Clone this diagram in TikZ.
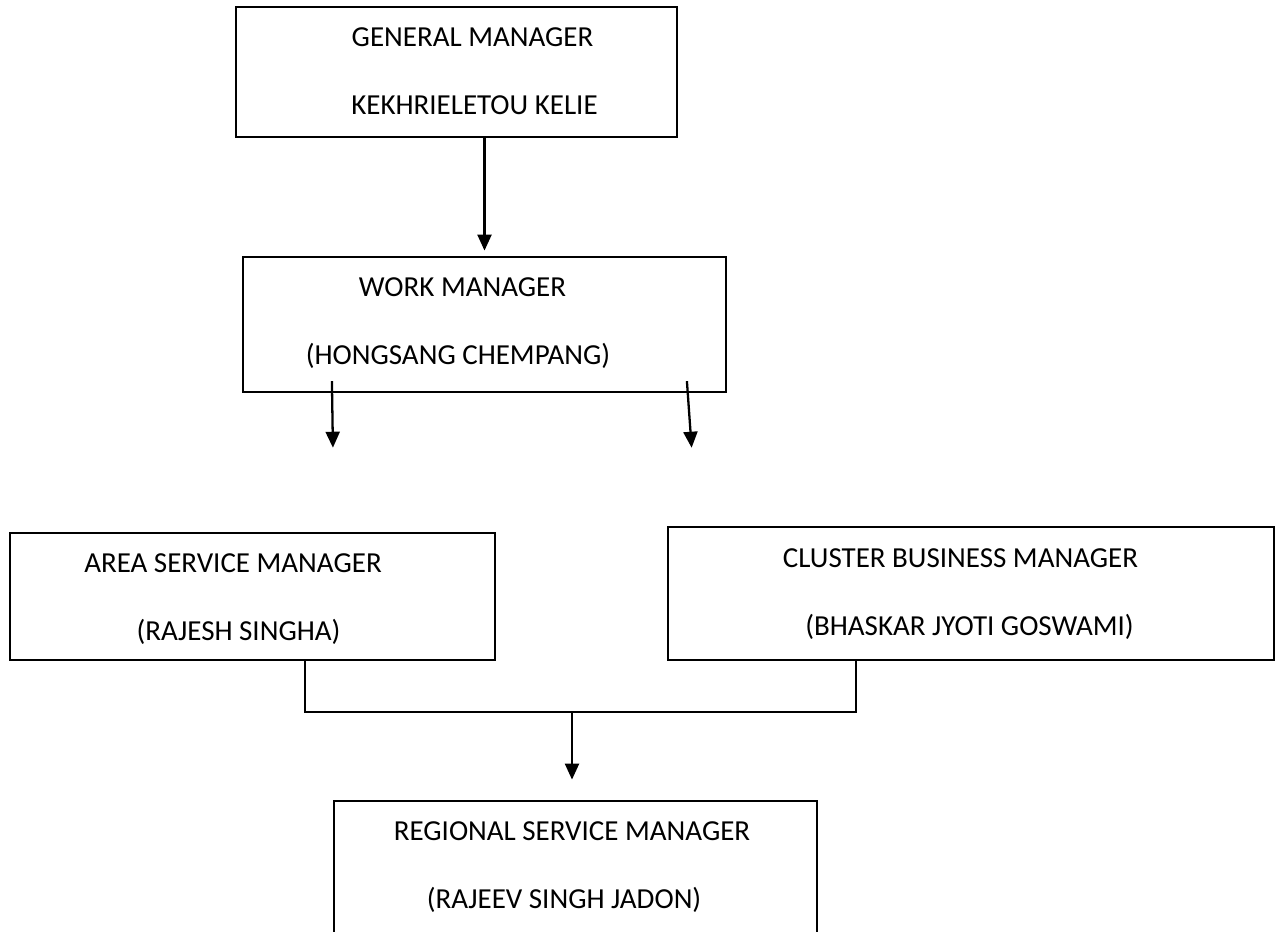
\documentclass[tikz,border=0pt]{standalone}
\usepackage{fontspec}
\setmainfont{Carlito}
\usetikzlibrary{arrows.meta}
\usetikzlibrary{calc}

\begin{document}
\begin{tikzpicture}[x=0.02cm, y=-0.02cm, line width=1.3pt, shorten >=3pt,
        box_style/.style={rectangle,draw=black,inner sep=0pt},
        text_style/.style={anchor=base,inner sep=0pt,font=\fontsize{16.5}{20}\selectfont},
        edge_style/.style={draw=black,line width=1.3pt,-{Triangle[width=0.28cm,length=0.32cm]}},
        line_style/.style={draw=black,line width=1.3pt,shorten >=0pt}]

        \useasboundingbox (0,0) rectangle (1281,932);
        \clip (0,0) rectangle (1281,932);

        \node [box_style,minimum width=8.82cm,minimum height=2.6cm](gm) at (456.5,72) {};
        \node [text_style](gm_role) at (472.5,47) {GENERAL MANAGER};
        \node [text_style](gm_name) at (474.5,115) {KEKHRIELETOU KELIE};

        \node [box_style,minimum width=9.66cm,minimum height=2.7cm](wm) at (484.5,324.5) {};
        \node [text_style](wm_role) at (462.5,297) {WORK MANAGER};
        \node [text_style](wm_name) at (458,365) {(HONGSANG CHEMPANG)};

        \node [box_style,minimum width=9.7cm,minimum height=2.54cm](asm) at (252.5,596.5) {};
        \node [text_style](asm_role) at (233,572) {AREA SERVICE MANAGER};
        \node [text_style](asm_name) at (238.5,640) {(RAJESH SINGHA)};

        \node [box_style,minimum width=12.12cm,minimum height=2.66cm](cbm) at (971,593.5) {};
        \node [text_style](cbm_role) at (960.5,567) {CLUSTER BUSINESS MANAGER};
        \node [text_style](cbm_name) at (969.5,635) {(BHASKAR JYOTI GOSWAMI)};

        \node [box_style,minimum width=9.66cm,minimum height=2.76cm](rsm) at (575.5,870) {};
        \node [text_style](rsm_role) at (572,840) {REGIONAL SERVICE MANAGER};
        \node [text_style](rsm_name) at (564,908) {(RAJEEV SINGH JADON)};

        \coordinate (wm_left_end) at (333,453);
        \coordinate (wm_right_end) at (692,453);
        \coordinate (bus_left) at (305,712);
        \coordinate (bus_right) at (856,712);
        \coordinate (bus_mid) at (572,712);

        \draw [edge_style] (gm.south -| wm.north) -- (wm.north);

        \draw [edge_style] ($(wm.south west)+(90,-12)$) -- (wm_left_end);

        \draw [edge_style] ($(wm.south west)+(445,-12)$) -- (wm_right_end);

        \draw [line_style] (asm.south -| bus_left) -- (bus_left) -- (bus_right) -- (cbm.south -| bus_right);

        \draw [edge_style] (bus_mid) -- ($(rsm.north -| bus_mid)+(0,-15)$);

        \end{tikzpicture}
\end{document}
